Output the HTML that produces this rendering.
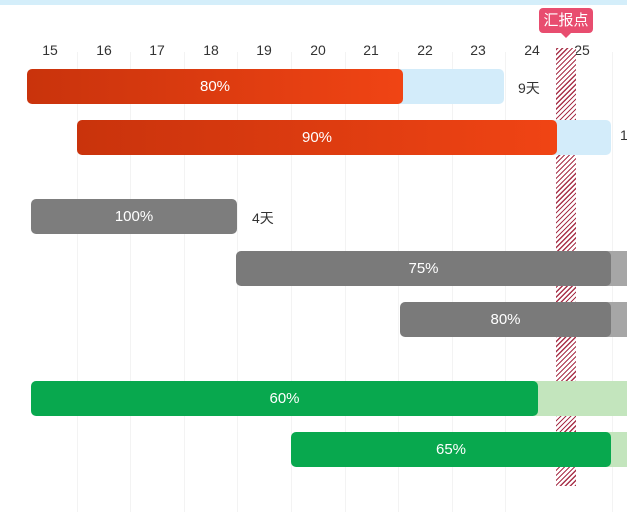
<!DOCTYPE html>
<html><head><style>
body{margin:0;width:627px;height:512px;background:#fff;position:relative;overflow:hidden;font-family:"Liberation Sans","Noto Sans CJK SC",sans-serif}
.a{position:absolute}
.t{position:absolute;top:42px;font-size:14px;color:#333;width:30px;text-align:center}
.g{position:absolute;top:52px;width:1px;height:460px;background:#f3f3f3}
.b{position:absolute;height:35px;border-radius:5px;color:#fff;font-size:15px;display:flex;align-items:center;justify-content:center}
.l{position:absolute;font-size:14px;color:#333}
</style></head><body>
<div class="a" style="left:0;top:0;width:627px;height:5px;background:#d4eefa"></div>
<div class="g" style="left:77px"></div><div class="g" style="left:130px"></div><div class="g" style="left:184px"></div><div class="g" style="left:237px"></div><div class="g" style="left:291px"></div><div class="g" style="left:345px"></div><div class="g" style="left:398px"></div><div class="g" style="left:452px"></div><div class="g" style="left:505px"></div><div class="g" style="left:612px"></div>
<div class="t" style="left:35px">15</div><div class="t" style="left:89px">16</div><div class="t" style="left:142px">17</div><div class="t" style="left:196px">18</div><div class="t" style="left:249px">19</div><div class="t" style="left:303px">20</div><div class="t" style="left:356px">21</div><div class="t" style="left:410px">22</div><div class="t" style="left:463px">23</div><div class="t" style="left:517px">24</div><div class="t" style="left:567px">25</div>
<div class="a" style="left:556px;top:48px;width:20px;height:438px;background:repeating-linear-gradient(-45deg,#a8324a 0 1.2px,#fff 1.2px 3.5px)"></div>
<div class="a" style="left:539px;top:8px;width:54px;height:25px;background:#e84d6f;border-radius:4px;color:#fff;font-size:15px;text-align:center;line-height:25px">汇报点</div>
<div class="a" style="left:561px;top:33px;width:0;height:0;border:5px solid transparent;border-top-color:#e84d6f"></div>

<div class="b" style="left:395px;top:69px;width:109px;background:#d3ecfa"></div>
<div class="b" style="left:27px;top:69px;width:376px;background:linear-gradient(90deg,#c9330c,#f04414)">80%</div>
<div class="l" style="left:518px;top:78px">9天</div>

<div class="b" style="left:549px;top:120px;width:62px;background:#d3ecfa"></div>
<div class="b" style="left:77px;top:120px;width:480px;background:linear-gradient(90deg,#c9330c,#f04414)">90%</div>
<div class="l" style="left:620px;top:127px">1</div>

<div class="b" style="left:31px;top:199px;width:206px;background:#7d7d7d">100%</div>
<div class="l" style="left:252px;top:208px">4天</div>

<div class="b" style="left:600px;top:251px;width:40px;background:#a6a6a6"></div>
<div class="b" style="left:236px;top:251px;width:375px;background:#7a7a7a">75%</div>

<div class="b" style="left:600px;top:302px;width:40px;background:#a6a6a6"></div>
<div class="b" style="left:400px;top:302px;width:211px;background:#7a7a7a">80%</div>

<div class="b" style="left:530px;top:381px;width:110px;background:#c3e5bd"></div>
<div class="b" style="left:31px;top:381px;width:507px;background:#08a84e">60%</div>

<div class="b" style="left:600px;top:432px;width:40px;background:#c3e5bd"></div>
<div class="b" style="left:291px;top:432px;width:320px;background:#08a84e">65%</div>
</body></html>
